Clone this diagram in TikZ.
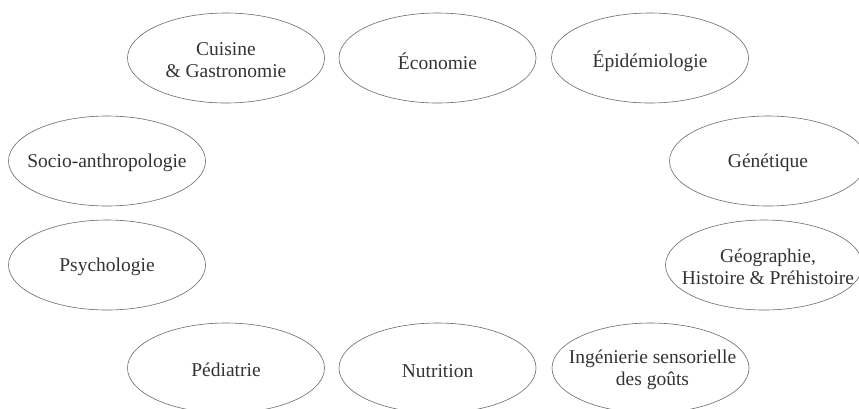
\documentclass[tikz,border=0pt]{standalone}
\usepackage{fontspec}
\setmainfont{Liberation Serif}
\usetikzlibrary{shapes.geometric}
\definecolor{edgegray}{HTML}{6A6A6A}
\definecolor{txtgray}{HTML}{333333}
\tikzset{
  field/.style={ellipse, draw=edgegray, line width=0.6pt, minimum width=197pt, minimum height=90pt,
    inner sep=0pt},
  fieldtext/.style={inner sep=0pt, align=center, text=txtgray,
    font=\fontsize{19.5}{22}\selectfont}
}
\begin{document}
\begin{tikzpicture}[x=1pt,y=-1pt]
\useasboundingbox (0,0) rectangle (859,408);
\clip (0,0) rectangle (859,408);
\node[field] (cuisine) at (226,58) {};
\node[field] (eco) at (437.5,58) {};
\node[field] (epi) at (650,58) {};
\node[field] (socio) at (107,161) {};
\node[field] (gen) at (768,161) {};
\node[field] (psy) at (107,265) {};
\node[field] (geo) at (764,265) {};
\node[field] (ped) at (226,368) {};
\node[field] (nut) at (437.5,368) {};
\node[field] (ing) at (650.5,368) {};
\node[fieldtext] (cuisinet) at ([yshift=-2pt]cuisine) {Cuisine\\\& Gastronomie};
\node[fieldtext] (ecot) at ([yshift=-3pt]eco) {Économie};
\node[fieldtext] (epit) at ([yshift=-3pt]epi) {Épidémiologie};
\node[fieldtext] (sociot) at ([yshift=-2pt]socio) {Socio-anthropologie};
\node[fieldtext] (gent) at ([yshift=-2pt]gen) {Génétique};
\node[fieldtext] (psyt) at ([yshift=-2pt]psy) {Psychologie};
\node[fieldtext] (geot) at ([xshift=4pt,yshift=-2pt]geo) {Géographie,\\Histoire \& Préhistoire};
\node[fieldtext] (pedt) at ([yshift=-2pt]ped) {Pédiatrie};
\node[fieldtext] (nutt) at ([yshift=-3pt]nut) {Nutrition};
\node[fieldtext] (ingt) at ([xshift=2pt,yshift=-2pt]ing) {Ingénierie sensorielle\\des goûts};
\end{tikzpicture}
\end{document}
